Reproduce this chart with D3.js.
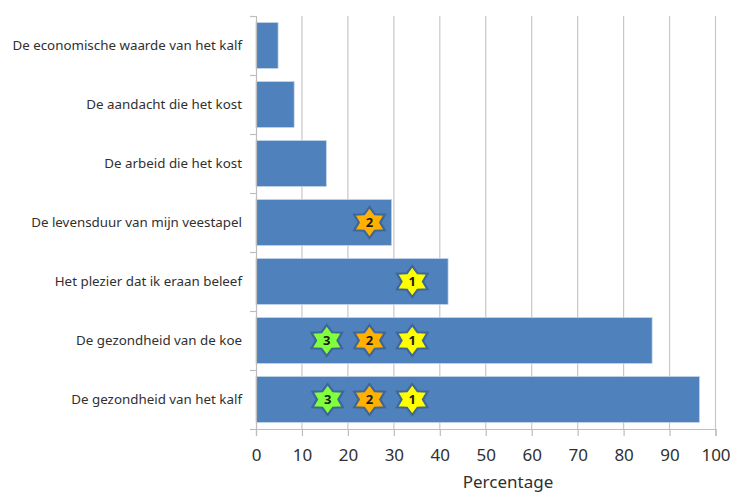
<!DOCTYPE html>
<html>
<head>
<meta charset="utf-8">
<script src="https://cdn.jsdelivr.net/npm/d3@7"></script>
<style>
  html, body { margin: 0; padding: 0; background: #fff; }
  text { font-family: "Noto Sans", sans-serif; fill: #303030; }
</style>
</head>
<body>
<svg id="chart" width="731" height="493"></svg>
<script>
const categories = [
  "De economische waarde van het kalf",
  "De aandacht die het kost",
  "De arbeid die het kost",
  "De levensduur van mijn veestapel",
  "Het plezier dat ik eraan beleef",
  "De gezondheid van de koe",
  "De gezondheid van het kalf"
];
const percentages = [4.8, 8.3, 15.3, 29.5, 41.8, 86.2, 96.5];
const tickValues = [0, 10, 20, 30, 40, 50, 60, 70, 80, 90, 100];

// Ranking stars: category index, position along the percentage axis, rank
const starCategories = [3, 4, 5, 5, 5, 6, 6, 6];
const starPositions = [24.7, 34, 15.4, 24.7, 34, 15.6, 24.7, 34];
const starRanks = [2, 1, 3, 2, 1, 3, 2, 1];
const rankColors = { 1: "#ffff00", 2: "#ffb000", 3: "#80ff3c" };

const plotLeft = 256, plotRight = 715.5, plotTop = 16, plotBottom = 429;
const svg = d3.select("#chart");

const x = d3.scaleLinear().domain([0, 100]).range([plotLeft, plotRight]);
const y = d3.scaleBand().domain(d3.range(categories.length)).range([plotTop, plotBottom]).paddingInner(0.225).paddingOuter(0.1125);
const yEdges = d3.scaleLinear().domain([0, categories.length]).range([plotTop, plotBottom]);

// Vertical gridlines
svg.append("g").selectAll("line").data(tickValues.slice(1)).join("line")
  .attr("x1", d => x(d)).attr("x2", d => x(d))
  .attr("y1", plotTop).attr("y2", plotBottom)
  .attr("stroke", "#c8c8c8").attr("stroke-width", 1.2);

// Bars
svg.append("g").selectAll("rect").data(percentages).join("rect")
  .attr("x", x(0))
  .attr("y", (d, i) => y(i))
  .attr("width", d => x(d) - x(0))
  .attr("height", y.bandwidth())
  .attr("fill", "#4f81bd")
  .attr("stroke", "#bcd0e8").attr("stroke-width", 0.7);

// Axes
const xAxis = svg.append("g").attr("transform", `translate(0,${plotBottom})`)
  .call(d3.axisBottom(x).tickValues(tickValues).tickSize(7).tickPadding(13).tickFormat(d3.format("d")));
xAxis.selectAll("text").attr("font-size", 17);

const yAxis = svg.append("g").attr("transform", `translate(${plotLeft},0)`)
  .call(d3.axisLeft(yEdges).tickValues(d3.range(categories.length + 1)).tickSize(6).tickFormat(() => ""));

const yLabels = svg.append("g").attr("transform", `translate(${plotLeft},0)`)
  .call(d3.axisLeft(y).tickSize(0).tickPadding(14).tickFormat(i => categories[i]));
yLabels.select(".domain").remove();
yLabels.selectAll("text").attr("font-size", 13.35);

svg.selectAll(".domain, .tick line").attr("stroke", "#bdbdbd").attr("stroke-width", 1.2);

// Six-pointed stars, slightly wider than tall
const starPath = d3.lineRadial().curve(d3.curveLinearClosed)(
  d3.range(12).map(k => [k * Math.PI / 6, k % 2 ? 9.4 : 15.5])
);
const stars = svg.append("g").selectAll("g").data(starRanks).join("g")
  .attr("transform", (d, i) =>
    `translate(${x(starPositions[i])},${y(starCategories[i]) + y.bandwidth() / 2})`);
stars.append("path")
  .attr("d", starPath)
  .attr("transform", "scale(1.14,1)")
  .attr("fill", d => rankColors[d])
  .attr("stroke", "#3f6796").attr("stroke-width", 2);
stars.append("text")
  .attr("text-anchor", "middle").attr("dy", "0.36em")
  .attr("font-size", 13).attr("font-weight", 700)
  .style("fill", "#1a1a1a")
  .text(d => d);

// Axis title
svg.append("text")
  .attr("x", 508).attr("y", 488)
  .attr("text-anchor", "middle").attr("font-size", 17)
  .text("Percentage");
</script>
</body>
</html>
